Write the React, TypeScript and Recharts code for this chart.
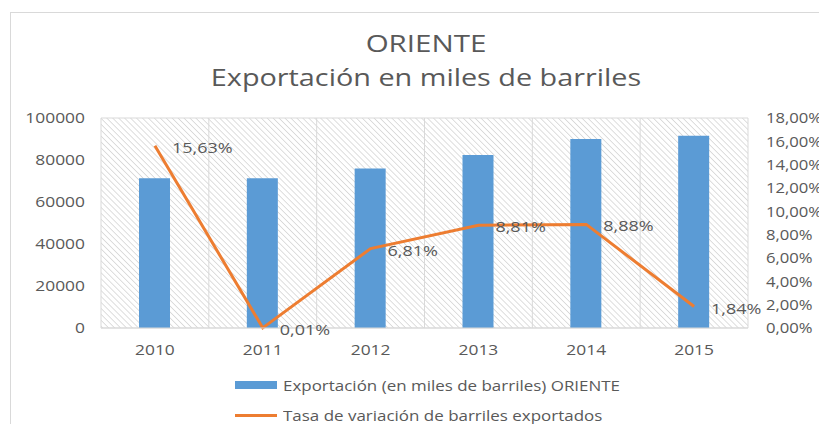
import { ComposedChart, Bar, Line, XAxis, YAxis, CartesianGrid } from 'recharts'

const years = ['2010', '2011', '2012', '2013', '2014', '2015']
const exports = [71300, 71300, 76000, 82400, 90000, 91600]
const variation = [15.63, 0.01, 6.81, 8.81, 8.88, 1.84]
const leftTicks = [0, 20000, 40000, 60000, 80000, 100000]
const rightTicks = [0, 2, 4, 6, 8, 10, 12, 14, 16, 18]

const BLUE = '#5b9bd5'
const ORANGE = '#ed7d31'
const TEXT = '#595959'
const FONT = '"Open Sans", sans-serif'

const data = years.map((year, i) => ({ year, exports: exports[i], variation: variation[i] }))

const pct = (v: number) => v.toFixed(2).replace('.', ',') + '%'

// axis tick text, stretched horizontally around its anchor point
// (the reference text is wider than Open Sans)
function Tick(props: any) {
  const { x, y, payload, textAnchor, format, dy, stretch = 1.16 } = props
  const label = format ? format(payload.value) : payload.value
  return (
    <text
      transform={`translate(${x},${y}) scale(${stretch},1)`}
      textAnchor={textAnchor}
      dy={dy}
      fill={TEXT}
      fontSize={15}
      fontFamily={FONT}
    >
      {label}
    </text>
  )
}

function PointLabel(props: any) {
  const { x, y, value } = props
  return (
    <text
      transform={`translate(${x + 17},${y + 3}) scale(1.2,1)`}
      fill={TEXT}
      fontSize={15}
      fontFamily={FONT}
      dominantBaseline="middle"
    >
      {pct(value)}
    </text>
  )
}

const stretched = (k: number) => ({ display: 'inline-block', transform: `scaleX(${k})`, transformOrigin: 'left center' })

export default function App() {
  return (
    <div style={{ position: 'relative', width: 827, height: 432, margin: -8, overflow: 'hidden', background: '#fff', fontFamily: FONT }}>
      <div style={{ position: 'absolute', left: 10, top: 12, width: 840, height: 440, border: '1px solid #d9d9d9' }} />
      <div style={{ position: 'absolute', left: 0, width: 852, top: 26, textAlign: 'center', color: TEXT, fontSize: 24, lineHeight: '34px' }}>
        <div style={{ transform: 'scaleX(1.23)' }}>ORIENTE</div>
        <div style={{ transform: 'scaleX(1.2)' }}>Exportación en miles de barriles</div>
      </div>
      <div style={{ position: 'absolute', left: 0, top: 0 }}>
        <ComposedChart width={827} height={432} data={data} margin={{ top: 118, right: 0, bottom: 74, left: 0 }} barSize={31}>
          <defs>
            <pattern id="hatch" width="4.2" height="4.2" patternUnits="userSpaceOnUse" patternTransform="rotate(-45)">
              <line x1="0" y1="0" x2="0" y2="4.2" stroke="#c8c8c8" strokeWidth="1.2" />
            </pattern>
          </defs>
          <CartesianGrid
            stroke="#d9d9d9"
            fill="url(#hatch)"
            fillOpacity={1}
            verticalCoordinatesGenerator={({ offset }: any) =>
              years.map((_, i) => offset.left + (i * offset.width) / years.length).concat(offset.left + offset.width)
            }
          />
          <XAxis
            dataKey="year"
            height={30}
            tickLine={false}
            axisLine={{ stroke: '#d9d9d9' }}
            tickMargin={10}
            tick={<Tick dy="0.71em" />}
          />
          <YAxis
            yAxisId="left"
            width={101}
            domain={[0, 100000]}
            ticks={leftTicks}
            tickLine={false}
            axisLine={false}
            tickMargin={10}
            tick={<Tick dy="0.36em" />}
          />
          <YAxis
            yAxisId="right"
            orientation="right"
            width={79}
            domain={[0, 18]}
            ticks={rightTicks}
            tickLine={false}
            axisLine={false}
            tickMargin={12}
            tick={<Tick dy="0.36em" format={pct} stretch={1.11} />}
          />
          <Bar yAxisId="left" dataKey="exports" fill={BLUE} isAnimationActive={false} />
          <Line
            yAxisId="right"
            dataKey="variation"
            stroke={ORANGE}
            strokeWidth={3}
            dot={false}
            activeDot={false}
            label={<PointLabel />}
            isAnimationActive={false}
          />
        </ComposedChart>
      </div>
      <div style={{ position: 'absolute', left: 235, top: 370, color: TEXT, fontSize: 15, lineHeight: '30px' }}>
        <div style={{ display: 'flex', alignItems: 'center' }}>
          <span style={{ width: 42, height: 8, background: BLUE, marginRight: 6 }} />
          <span style={stretched(1.13)}>Exportación (en miles de barriles) ORIENTE</span>
        </div>
        <div style={{ display: 'flex', alignItems: 'center' }}>
          <span style={{ width: 42, height: 3, background: ORANGE, marginRight: 6 }} />
          <span style={stretched(1.13)}>Tasa de variación de barriles exportados</span>
        </div>
      </div>
    </div>
  )
}
